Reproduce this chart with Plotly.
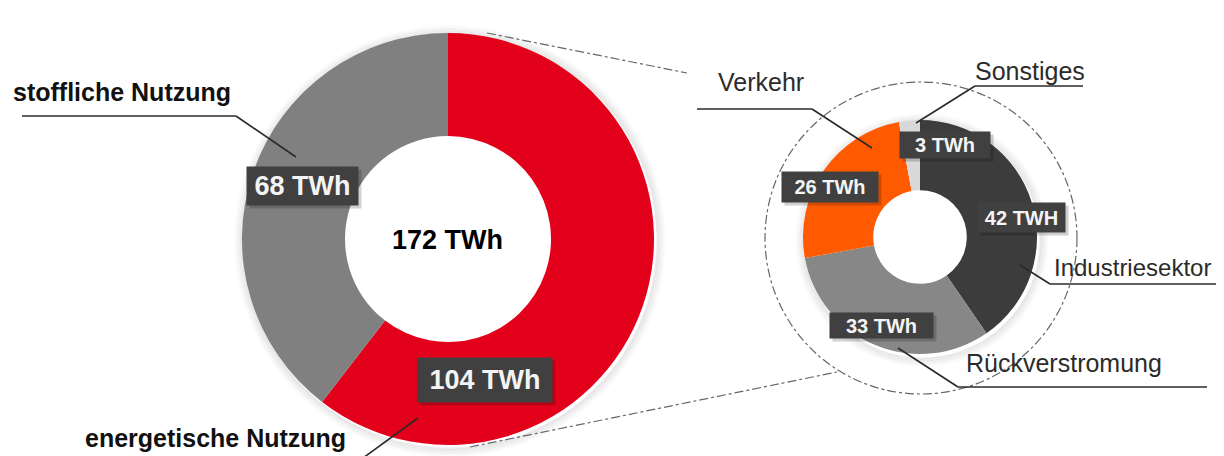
import plotly.graph_objects as go

# The page body has an 8px margin, so the figure is drawn 8px in from the top-left.
OFF = 8
W, H = 1224 - 2 * OFF, 456 - OFF

# ---- data ----
main_labels = ["energetische Nutzung", "stoffliche Nutzung"]
main_values = [104, 68]
main_colors = ["#e2001a", "#808080"]
main_text = ["104 TWh", "68 TWh"]
main_total = "172 TWh"

sub_labels = ["Industriesektor", "Rückverstromung", "Verkehr", "Sonstiges"]
sub_values = [42, 33, 26, 3]
sub_colors = ["#3c3c3c", "#878787", "#ff5a00", "#d8d8d8"]
sub_text = ["42 TWH", "33 TWh", "26 TWh", "3 TWh"]


def px(x):
    return (x - OFF) / W


def py(y):
    return 1 - (y - OFF) / H


fig = go.Figure()

# soft shadow rings just outside the donuts
shapes = []
for (cx, cy, r) in [(450, 241, 206), (922, 240, 117)]:
    for k in range(1, 7):
        rr = r + k * 1.5
        shapes.append(dict(type="circle", xref="paper", yref="paper",
                           x0=px(cx - rr), x1=px(cx + rr), y0=py(cy + rr), y1=py(cy - rr),
                           line=dict(width=2, color="rgba(0,0,0,%.3f)" % (0.09 - 0.013 * k)),
                           layer="below"))

fig.add_trace(go.Pie(
    labels=main_labels, values=main_values, hole=0.5, sort=False,
    direction="clockwise", rotation=0,
    marker=dict(colors=main_colors, line=dict(width=0)),
    textinfo="none", hoverinfo="label+value", showlegend=False,
    domain=dict(x=[px(448 - 206), px(448 + 206)], y=[py(239 + 206), py(239 - 206)]),
))

fig.add_trace(go.Pie(
    labels=sub_labels, values=sub_values, hole=0.40, sort=False,
    direction="clockwise", rotation=0,
    marker=dict(colors=sub_colors, line=dict(width=0)),
    textinfo="none", hoverinfo="label+value", showlegend=False,
    domain=dict(x=[px(920 - 117), px(920 + 117)], y=[py(237 + 117), py(237 - 117)]),
))

dotc = "#666666"
# dash-dot circle around the detail donut
shapes.append(dict(type="circle", xref="paper", yref="paper",
                   x0=px(921 - 156), x1=px(921 + 156), y0=py(238 + 156), y1=py(238 - 156),
                   line=dict(color=dotc, width=1.2, dash="dashdot")))
# connector lines from the main donut
for (x0, y0, x1, y1) in [(487, 33, 687, 73), (470, 447, 837, 372)]:
    shapes.append(dict(type="line", xref="paper", yref="paper",
                       x0=px(x0), y0=py(y0), x1=px(x1), y1=py(y1),
                       line=dict(color=dotc, width=1.2, dash="dashdot")))

# callout lines (underline + leader)
leaders = [
    [(22, 116), (236, 116), (296, 157)],      # stoffliche Nutzung
    [(363, 458), (418, 418)],                 # energetische Nutzung
    [(697, 109), (812, 109), (872, 148)],     # Verkehr
    [(1083, 86), (975, 86), (916, 123)],      # Sonstiges
    [(1224, 284), (1050, 284), (1020, 265)],  # Industriesektor
    [(1207, 387), (958, 387), (898, 348)],    # Rückverstromung
]
for pts in leaders:
    for (a, b) in zip(pts[:-1], pts[1:]):
        shapes.append(dict(type="line", xref="paper", yref="paper",
                           x0=px(a[0]), y0=py(a[1]), x1=px(b[0]), y1=py(b[1]),
                           line=dict(color="#2a2a2a", width=1.6)))

fig.update_layout(shapes=shapes)

ann = []
# center total
ann.append(dict(x=px(448), y=py(240), xref="paper", yref="paper", text="<b>%s</b>" % main_total,
                showarrow=False, font=dict(family="Liberation Sans, Arial", size=27, color="#000000"),
                xanchor="center", yanchor="middle"))

# value boxes (with a faint shadow box)
boxes = [
    (main_text[0], 485, 380, 134, 44, 27),
    (main_text[1], 302, 186, 111, 38, 27),
    (sub_text[0], 1021, 217, 87, 29, 20),
    (sub_text[1], 881, 325, 103, 25, 20),
    (sub_text[2], 830, 187, 96, 30, 20),
    (sub_text[3], 945, 145, 90, 26, 20),
]
for (t, cx, cy, bw, bh, fs) in boxes:
    ann.append(dict(x=px(cx + 3), y=py(cy + 3), xref="paper", yref="paper", text=" ",
                    showarrow=False, width=bw, height=bh, bgcolor="rgba(0,0,0,0.18)",
                    xanchor="center", yanchor="middle", borderpad=0))
    ann.append(dict(x=px(cx), y=py(cy), xref="paper", yref="paper", text="<b>%s</b>" % t,
                    showarrow=False, width=bw, height=bh, bgcolor="#404040",
                    font=dict(family="Liberation Sans, Arial", size=fs, color="#f4f4f4"),
                    xanchor="center", yanchor="middle", align="center", valign="middle",
                    borderpad=0))

# category callout labels
callouts = [
    (main_labels[1], 11, 92, True, 25),
    (main_labels[0], 83, 438, True, 25),
    (sub_labels[2], 716, 82, False, 25),
    (sub_labels[3], 973, 71, False, 25),
    (sub_labels[0], 1052, 267, False, 24),
    (sub_labels[1], 964, 363, False, 25),
]
for (t, x, y, bold, fs) in callouts:
    ann.append(dict(x=px(x), y=py(y), xref="paper", yref="paper",
                    text=("<b>%s</b>" % t) if bold else t,
                    showarrow=False, xanchor="left", yanchor="middle",
                    font=dict(family="Liberation Sans, Arial", size=fs,
                              color="#111111" if bold else "#2b2b2b")))

fig.update_layout(
    annotations=ann,
    width=W, height=H,
    margin=dict(l=0, r=0, t=0, b=0),
    paper_bgcolor="white", plot_bgcolor="white",
)

fig.write_html("out.html")
